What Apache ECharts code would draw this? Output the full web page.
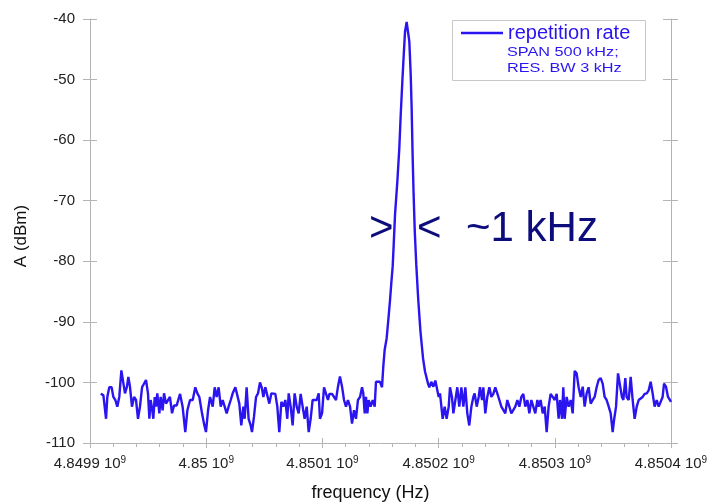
<!DOCTYPE html>
<html><head><meta charset="utf-8">
<script src="https://cdn.jsdelivr.net/npm/echarts@6/dist/echarts.min.js"></script>
<style>html,body{margin:0;padding:0;background:#fff}#c{width:711px;height:503px}</style>
</head><body><div id="c"></div>
<script>
// frequency = baseFreqHz + offset (kHz) ; amplitude in dBm
const baseFreqHz = 4849900000;
const xTickLabels = ['4.8499', '4.85', '4.8501', '4.8502', '4.8503', '4.8504'];
const seriesName = 'repetition rate';
const legendNotes = ['SPAN 500 kHz;', 'RES. BW 3 kHz'];
const annotationMarks = ['>', '<', '~1 kHz'];

const leftNoise = [
[9.2,-101.9],[11.5,-102.1],[13.8,-106.0],[14.9,-102.4],[16.6,-100.8],[18.6,-100.8],[20.1,-102.4],[21.8,-102.9],[23.5,-104.0],[25.2,-102.4],
[27.0,-98.0],[28.7,-98.1],[30.1,-101.8],[31.8,-100.7],[33.0,-99.1],[34.4,-100.7],[36.1,-104.0],[37.9,-102.4],[39.6,-102.9],[41.3,-106.0],
[43.0,-104.0],[44.8,-100.8],[46.5,-100.7],[48.2,-99.6],[49.9,-101.8],[51.1,-106.0],[52.2,-102.9],[53.4,-104.3],[54.5,-106.0],[55.7,-102.4],
[56.8,-104.0],[57.9,-101.8],[59.7,-105.1],[60.8,-102.4],[62.5,-104.6],[63.7,-101.8],[65.4,-103.5],[67.1,-103.2],[68.8,-102.4],[70.6,-105.1],
[72.3,-103.8],[74.6,-103.8],[77.5,-101.9],[79.7,-104.0],[82.0,-108.2],[83.8,-104.6],[86.1,-102.9],[88.4,-102.9],[90.6,-100.8],[92.4,-101.8],
[94.1,-102.4],[96.4,-105.1],[98.1,-106.8],[99.8,-108.2],[101.6,-104.6],[103.3,-102.4],[105.6,-104.0],[107.3,-100.8],[109.0,-102.4],[110.7,-100.8],
[112.5,-104.0],[114.2,-102.9],[115.9,-104.0],[117.6,-105.1],[119.3,-104.0],[121.1,-102.9],[122.8,-101.8],[125.1,-100.8],[126.8,-100.8],[128.5,-103.5],
[130.2,-107.1],[132.0,-104.0],[133.1,-106.0],[134.8,-100.8],[136.5,-106.0],[138.3,-107.1],[139.4,-108.2],[141.1,-105.7],[142.9,-102.4],[144.6,-101.8],
[146.3,-100.0],[148.0,-101.0],[149.2,-102.4],[150.9,-100.8],[152.6,-101.0],[154.3,-103.5],[156.1,-101.8],[157.8,-101.9],[159.5,-101.9],[161.2,-104.0],
[162.9,-108.2],[164.7,-103.2],[166.4,-104.0],[168.1,-102.9],[169.8,-106.0],[171.0,-101.8],[172.7,-104.0],[174.4,-107.1],[176.1,-101.8],[177.9,-104.0],
[179.6,-105.1],[181.3,-101.9],[183.0,-104.0],[184.7,-106.0],[186.5,-104.0],[188.2,-108.2],[189.9,-106.0],[191.6,-102.9],[193.3,-102.9],[195.1,-102.9],
[196.8,-101.8],[197.9,-106.0],[199.7,-105.1],[201.4,-100.8],[203.1,-100.8],[204.8,-102.9],[206.0,-101.9],[208.3,-101.9],[210.0,-101.9],[211.7,-102.9],
[213.4,-100.7],[215.1,-99.0],[216.9,-100.7],[218.6,-102.9],[220.3,-104.0],[222.0,-102.9]
];

const peakRegion = [
[223.8,-104.0],[225.5,-106.8],[227.2,-104.6],[228.9,-106.0],[230.6,-102.9],[232.4,-102.4],[234.1,-100.8],[235.2,-101.8],[236.4,-105.1],[237.5,-102.4],
[238.7,-105.1],[239.8,-102.9],[241.5,-104.0],[243.3,-102.9],[245.0,-104.0],[246.1,-99.9],[247.8,-99.7],[249.6,-99.9],[251.3,-100.8],[252.4,-97.4],
[253.6,-94.6],[255.3,-92.7],[257.0,-89.1],[258.2,-86.4],[259.3,-83.6],[260.5,-80.8],[261.3,-77.5],[262.5,-72.3],[264.5,-66.8],[266.2,-61.3],
[267.4,-55.8],[268.8,-50.3],[270.0,-45.9],[271.1,-42.1],[272.5,-40.5],[274.0,-40.5],[274.8,-43.7],[276.0,-49.2],[276.8,-54.7],[277.7,-63.0],
[278.5,-69.0],[279.5,-75.1],[280.8,-80.6],[282.4,-86.1],[284.4,-91.6],[286.6,-96.0],[288.3,-98.2]
];

const rightNoise = [
[289.7,-98.5],[290.9,-100.2],[292.0,-100.8],[293.7,-99.9],[295.5,-100.7],[297.2,-99.7],[298.9,-99.6],[300.1,-102.4],[301.2,-101.8],[302.4,-104.0],
[303.5,-106.0],[305.2,-104.0],[306.9,-106.0],[308.7,-104.0],[309.8,-100.8],[311.5,-102.4],[312.7,-105.1],[314.4,-105.1],[316.1,-100.8],[317.8,-104.0],
[319.6,-100.8],[321.3,-104.0],[323.0,-100.8],[324.7,-105.1],[326.4,-107.1],[328.2,-104.0],[329.9,-102.4],[331.0,-101.8],[332.8,-104.0],[334.5,-102.4],
[335.6,-100.8],[337.4,-102.9],[338.5,-100.8],[340.2,-105.1],[341.9,-102.4],[343.7,-100.8],[345.4,-102.4],[347.1,-101.9],[348.8,-100.8],[350.5,-101.8],
[352.3,-102.9],[354.0,-104.0],[355.7,-104.0],[357.4,-105.1],[359.1,-102.9],[360.9,-104.0],[362.6,-105.1],[364.3,-105.1],[366.0,-104.0],[367.8,-102.9],
[369.5,-104.0],[371.2,-102.4],[372.9,-101.9],[374.6,-104.0],[376.4,-102.9],[378.1,-105.1],[379.8,-102.9],[381.5,-104.0],[383.2,-105.1],[385.0,-102.9],
[386.1,-104.0],[387.8,-102.9],[389.6,-105.1],[391.3,-104.0],[393.0,-108.2],[394.7,-104.0],[396.4,-101.9],[398.2,-102.4],[399.9,-102.9],[401.6,-101.9],
[403.3,-106.0],[404.5,-102.9],[406.2,-106.0],[407.3,-100.8],[408.5,-106.0],[410.2,-102.4],[411.9,-104.0],[413.7,-102.9],[415.4,-105.1],[417.1,-98.1],
[418.8,-98.5],[420.5,-100.8],[422.3,-102.4],[424.0,-100.7],[425.7,-104.0],[427.4,-101.8],[429.1,-100.8],[430.9,-103.5],[432.6,-102.9],[434.3,-102.4],
[436.0,-100.8],[437.7,-99.6],[439.5,-99.3],[441.2,-100.2],[442.9,-102.4],[444.6,-102.9],[446.4,-104.0],[448.1,-105.1],[449.8,-108.2],[451.0,-106.2],
[452.7,-104.0],[454.4,-98.5],[456.1,-98.4],[457.8,-102.4],[459.0,-102.9],[460.7,-99.3],[461.8,-102.4],[463.6,-102.9],[465.3,-99.1],[467.0,-102.9],
[468.7,-106.0],[470.5,-104.0],[472.2,-102.9],[473.9,-102.9],[475.6,-102.4],[477.3,-101.9],[479.1,-101.8],[480.8,-101.3],[482.5,-99.9],[484.2,-101.8],
[485.9,-104.0],[487.7,-102.9],[489.4,-104.0],[491.1,-104.0],[492.8,-102.4],[494.0,-100.2],[495.7,-100.7],[497.4,-102.4],[499.1,-102.9],[500.0,-103.2]
];

const FONT = '"Liberation Sans", Arial, Helvetica, sans-serif';
const LINE_COLOR = '#2a14f0';
const NAVY = '#0c0c7c';
const AXIS_GRAY = '#b4b4b4';
const X_MIN = 4849900000, X_MAX = 4850400000, X_INT = 100000;

const seriesData = leftNoise.concat(peakRegion, rightNoise)
  .map(p => [baseFreqHz + p[0] * 1000, p[1]]);

const chart = echarts.init(document.getElementById('c'), null, {renderer: 'canvas'});

const yCommon = {type: 'value', min: -110, max: -40, interval: 10, splitLine: {show: false}};
const xCommon = {type: 'value', min: X_MIN, max: X_MAX, interval: X_INT, splitLine: {show: false}};

chart.setOption({
  animation: false,
  backgroundColor: '#ffffff',
  grid: {left: 90, right: 40, top: 19, bottom: 60, containLabel: false, outerBoundsMode: 'none'},
  legend: {
    data: [{name: seriesName, icon: 'rect'}], left: 461, top: 23, padding: 0,
    itemWidth: 42, itemHeight: 2.5, selectedMode: false,
    textStyle: {fontSize: 20, color: LINE_COLOR, fontFamily: FONT}
  },
  xAxis: [
    Object.assign({}, xCommon, {
      position: 'bottom',
      axisLine: {show: true, lineStyle: {color: AXIS_GRAY, width: 1}},
      axisTick: {show: true, inside: false, length: 5, lineStyle: {color: AXIS_GRAY}},
      minorTick: {show: true, splitNumber: 5, length: 4, lineStyle: {color: AXIS_GRAY}},
      axisLabel: {
        margin: 12, color: '#222',
        formatter: v => '{m|' + xTickLabels[Math.round((v - X_MIN) / X_INT)] + ' 10}{s|9}',
        rich: {
          m: {fontSize: 15, fontFamily: FONT, color: '#222', lineHeight: 18},
          s: {fontSize: 10, fontFamily: FONT, color: '#222', verticalAlign: 'top', lineHeight: 10}
        }
      },
      name: 'frequency (Hz)', nameLocation: 'middle', nameGap: 41,
      nameTextStyle: {fontSize: 18, fontFamily: FONT, color: '#111', padding: [0, 20, 0, 0]}
    }),
    Object.assign({}, xCommon, {
      position: 'bottom',
      axisLine: {show: false},
      axisTick: {show: true, inside: true, length: 5, lineStyle: {color: AXIS_GRAY}},
      axisLabel: {show: false}
    })
  ],
  yAxis: [
    Object.assign({}, yCommon, {
      position: 'left',
      axisLine: {show: true, lineStyle: {color: AXIS_GRAY, width: 1}},
      axisTick: {show: true, inside: false, length: 7, lineStyle: {color: AXIS_GRAY}},
      axisLabel: {margin: 15, fontSize: 15, fontFamily: FONT, color: '#222'},
      name: 'A (dBm)', nameLocation: 'middle', nameGap: 60,
      nameTextStyle: {fontSize: 17, fontFamily: FONT, color: '#111', padding: [0, 10, 0, 0]}
    }),
    Object.assign({}, yCommon, {
      position: 'left',
      axisLine: {show: false},
      axisTick: {show: true, inside: true, length: 7, lineStyle: {color: AXIS_GRAY}},
      axisLabel: {show: false}
    }),
    Object.assign({}, yCommon, {
      position: 'right',
      axisLine: {show: true, lineStyle: {color: AXIS_GRAY, width: 1}},
      axisTick: {show: true, inside: false, length: 7, lineStyle: {color: AXIS_GRAY}},
      axisLabel: {show: false}
    }),
    Object.assign({}, yCommon, {
      position: 'right',
      axisLine: {show: false},
      axisTick: {show: true, inside: true, length: 8, lineStyle: {color: AXIS_GRAY}},
      axisLabel: {show: false}
    })
  ],
  graphic: [
    {type: 'rect', shape: {x: 452.5, y: 20.5, width: 193, height: 60},
     style: {fill: 'rgba(0,0,0,0)', stroke: '#c8c8c8', lineWidth: 1}, z: 1},
    {type: 'text', x: 507, y: 52, scaleX: 1.25, z: 5,
     style: {text: legendNotes[0], fill: LINE_COLOR, font: '13px ' + FONT, align: 'left', verticalAlign: 'middle'}},
    {type: 'text', x: 507, y: 68, scaleX: 1.25, z: 5,
     style: {text: legendNotes[1], fill: LINE_COLOR, font: '13px ' + FONT, align: 'left', verticalAlign: 'middle'}},
    {type: 'text', x: 369, y: 229, z: 5,
     style: {text: annotationMarks[0], fill: NAVY, font: '42px ' + FONT, align: 'left', verticalAlign: 'middle'}},
    {type: 'text', x: 417, y: 229, z: 5,
     style: {text: annotationMarks[1], fill: NAVY, font: '42px ' + FONT, align: 'left', verticalAlign: 'middle'}},
    {type: 'text', x: 466, y: 229, z: 5,
     style: {text: annotationMarks[2], fill: NAVY, font: '42px ' + FONT, align: 'left', verticalAlign: 'middle'}}
  ],
  series: [{
    name: seriesName, type: 'line', xAxisIndex: 0, yAxisIndex: 0,
    data: seriesData,
    symbol: 'circle', symbolSize: 3, showSymbol: false,
    lineStyle: {color: LINE_COLOR, width: 2.4},
    itemStyle: {color: LINE_COLOR},
    clip: true
  }]
});
</script>
</body></html>
